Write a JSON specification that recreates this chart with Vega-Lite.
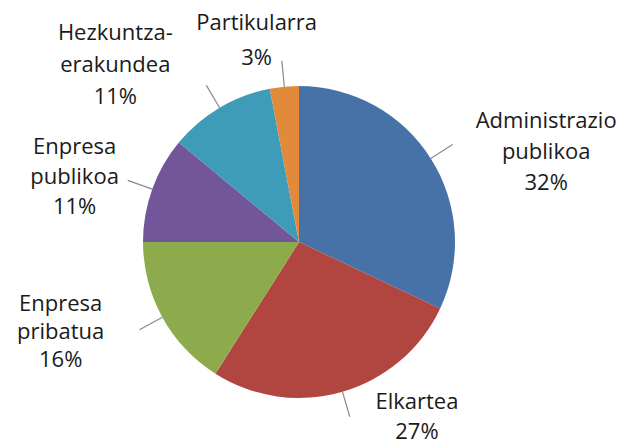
{
  "$schema": "https://vega.github.io/schema/vega-lite/v6.json",
  "autosize": "none",
  "width": 598,
  "height": 408,
  "padding": {"left": 0, "top": 38, "right": 24, "bottom": 0},
  "background": "white",
  "config": {"view": {"stroke": null}},
  "data": {
    "values": [
      {"category": "Administrazio publikoa", "value": 32},
      {"category": "Elkartea", "value": 27},
      {"category": "Enpresa pribatua", "value": 16},
      {"category": "Enpresa publikoa", "value": 11},
      {"category": "Hezkuntza-erakundea", "value": 11},
      {"category": "Partikularra", "value": 3}
    ]
  },
  "transform": [
    {"stack": "value", "groupby": [], "as": ["v0", "v1"]},
    {"calculate": "(datum.v0 + datum.v1) / 2", "as": "mid"},
    {"calculate": "replace(replace(datum.category, ' ', '\\n'), '-', '-\\n') + '\\n' + datum.value + '%'", "as": "label"}
  ],
  "layer": [
    {
      "mark": {"type": "arc", "outerRadius": 156},
      "encoding": {
        "theta": {"field": "v0", "type": "quantitative", "scale": {"domain": [0, 100]}},
        "theta2": {"field": "v1"},
        "color": {
          "field": "category", "type": "nominal", "legend": null,
          "scale": {
            "domain": ["Administrazio publikoa", "Elkartea", "Enpresa pribatua", "Enpresa publikoa", "Hezkuntza-erakundea", "Partikularra"],
            "range": ["#4672A8", "#B0463F", "#8DAB4C", "#73559A", "#3E9CB8", "#E08A3A"]
          }
        }
      }
    },
    {
      "mark": {"type": "arc", "innerRadius": 156, "outerRadius": 182, "filled": false, "stroke": "#8a8a8a", "strokeWidth": 1.2},
      "encoding": {
        "theta": {"field": "mid", "type": "quantitative", "scale": {"domain": [0, 100]}},
        "theta2": {"field": "mid"}
      }
    },
    {
      "transform": [{"filter": "datum.category == 'Administrazio publikoa'"}],
      "mark": {"type": "text", "radius": 256, "dx": 31, "dy": 16, "align": "center", "baseline": "middle", "lineBreak": "\n", "font": "Open Sans", "fontSize": 22, "lineHeight": 31, "color": "#1a1a1a"},
      "encoding": {"theta": {"field": "mid", "type": "quantitative", "scale": {"domain": [0, 100]}}, "text": {"field": "label"}}
    },
    {
      "transform": [{"filter": "datum.category == 'Elkartea'"}],
      "mark": {"type": "text", "radius": 204, "dx": 61, "dy": -36, "align": "center", "baseline": "middle", "lineBreak": "\n", "font": "Open Sans", "fontSize": 22, "lineHeight": 30, "color": "#1a1a1a"},
      "encoding": {"theta": {"field": "mid", "type": "quantitative", "scale": {"domain": [0, 100]}}, "text": {"field": "label"}}
    },
    {
      "transform": [{"filter": "datum.category == 'Enpresa pribatua'"}],
      "mark": {"type": "text", "radius": 256, "dx": -14, "dy": -61, "align": "center", "baseline": "middle", "lineBreak": "\n", "font": "Open Sans", "fontSize": 22, "lineHeight": 28, "color": "#1a1a1a"},
      "encoding": {"theta": {"field": "mid", "type": "quantitative", "scale": {"domain": [0, 100]}}, "text": {"field": "label"}}
    },
    {
      "transform": [{"filter": "datum.category == 'Enpresa publikoa'"}],
      "mark": {"type": "text", "radius": 230, "dx": -8, "dy": -17, "align": "center", "baseline": "middle", "lineBreak": "\n", "font": "Open Sans", "fontSize": 22, "lineHeight": 30, "color": "#1a1a1a"},
      "encoding": {"theta": {"field": "mid", "type": "quantitative", "scale": {"domain": [0, 100]}}, "text": {"field": "label"}}
    },
    {
      "transform": [{"filter": "datum.category == 'Hezkuntza-erakundea'"}],
      "mark": {"type": "text", "radius": 241, "dx": -61, "dy": -2, "align": "center", "baseline": "middle", "lineBreak": "\n", "font": "Open Sans", "fontSize": 22, "lineHeight": 32, "color": "#1a1a1a"},
      "encoding": {"theta": {"field": "mid", "type": "quantitative", "scale": {"domain": [0, 100]}}, "text": {"field": "label"}}
    },
    {
      "transform": [{"filter": "datum.category == 'Partikularra'"}],
      "mark": {"type": "text", "radius": 206, "dx": -23, "dy": -14, "align": "center", "baseline": "middle", "lineBreak": "\n", "font": "Open Sans", "fontSize": 22, "lineHeight": 35, "color": "#1a1a1a"},
      "encoding": {"theta": {"field": "mid", "type": "quantitative", "scale": {"domain": [0, 100]}}, "text": {"field": "label"}}
    }
  ]
}
